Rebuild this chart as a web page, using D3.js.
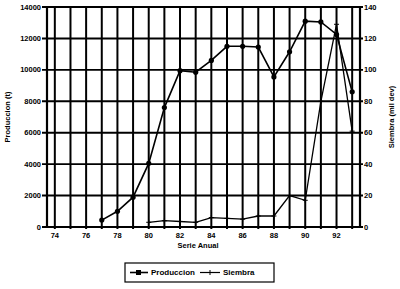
<!DOCTYPE html>
<html>
<head>
<meta charset="utf-8">
<script src="https://cdn.jsdelivr.net/npm/d3@7"></script>
<style>
  body { margin: 0; background: #fff; }
  text { font-family: 'Liberation Sans', Arial, sans-serif; font-weight: bold; fill: #000; }
</style>
</head>
<body>
<div id="chart"></div>
<script>
const width = 400;
const height = 289;

// data
const prodYears = [77, 78, 79, 80, 81, 82, 83, 84, 85, 86, 87, 88, 89, 90, 91, 92, 93];
const produccion = [440, 1000, 1900, 4050, 7600, 9950, 9850, 10600, 11500, 11500, 11450, 9550, 11150, 13100, 13050, 12250, 8600];
const siemYears = [80, 81, 82, 83, 84, 85, 86, 87, 88, 89, 90, 91, 92, 93];
const siembra = [3, 4, 3.5, 3, 6, 5.5, 5, 7, 7, 20, 17, 80, 129, 61];
const gridYears = d3.range(74, 94);
const xLabels = [74, 76, 78, 80, 82, 84, 86, 88, 90, 92];
const leftTicks = d3.range(0, 14001, 2000);
const rightTicks = d3.range(0, 141, 20);

const svg = d3.select('#chart').append('svg')
  .attr('width', width).attr('height', height);

const x = d3.scaleLinear().domain([73.5, 93.5]).range([47, 360]);
const yL = d3.scaleLinear().domain([0, 14000]).range([227, 7]);
const yR = d3.scaleLinear().domain([0, 140]).range([227, 7]);

// horizontal grid + ticks
svg.selectAll('.hgrid').data(leftTicks).enter().append('line')
  .attr('x1', 42).attr('x2', 363)
  .attr('y1', d => yL(d)).attr('y2', d => yL(d))
  .attr('stroke', '#000').attr('stroke-width', 1.9);

// vertical grid
svg.selectAll('.vgrid').data(gridYears).enter().append('line')
  .attr('x1', d => x(d)).attr('x2', d => x(d))
  .attr('y1', 7).attr('y2', 229)
  .attr('stroke', '#000').attr('stroke-width', 2);

// axes
svg.append('line').attr('x1', x(73.5)).attr('x2', x(73.5)).attr('y1', 6).attr('y2', 228)
  .attr('stroke', '#000').attr('stroke-width', 2.2);
svg.append('line').attr('x1', x(93.5)).attr('x2', x(93.5)).attr('y1', 6).attr('y2', 228)
  .attr('stroke', '#000').attr('stroke-width', 2.2);

// tick labels
svg.selectAll('.lt').data(leftTicks).enter().append('text')
  .attr('x', 41).attr('y', d => yL(d)).attr('dy', '0.35em')
  .attr('text-anchor', 'end').attr('font-size', 7.5)
  .text(d => d);
svg.selectAll('.rt').data(rightTicks).enter().append('text')
  .attr('x', 364).attr('y', d => yR(d)).attr('dy', '0.35em')
  .attr('font-size', 7.5)
  .text(d => d);
svg.selectAll('.xt').data(xLabels).enter().append('text')
  .attr('x', d => x(d)).attr('y', 235).attr('dy', '0.35em')
  .attr('text-anchor', 'middle').attr('font-size', 7.5)
  .text(d => d);

// titles
svg.append('text').attr('x', 198).attr('y', 247.5).attr('text-anchor', 'middle')
  .attr('font-size', 7.5).text('Serie Anual');
svg.append('text').attr('transform', 'translate(10,117) rotate(-90)')
  .attr('text-anchor', 'middle').attr('font-size', 7.5).text('Produccion (t)');
svg.append('text').attr('transform', 'translate(394,117) rotate(-90)')
  .attr('text-anchor', 'middle').attr('font-size', 7.5).text('Siembra (mil dev)');

// series
const lineP = d3.line().x((d, i) => x(prodYears[i])).y(d => yL(d));
svg.append('path').datum(produccion).attr('d', lineP)
  .attr('fill', 'none').attr('stroke', '#000').attr('stroke-width', 1.6);
svg.selectAll('.pdot').data(produccion).enter().append('circle')
  .attr('cx', (d, i) => x(prodYears[i])).attr('cy', d => yL(d)).attr('r', 2.6)
  .attr('fill', '#000');

const lineS = d3.line().x((d, i) => x(siemYears[i])).y(d => yR(d));
svg.append('path').datum(siembra).attr('d', lineS)
  .attr('fill', 'none').attr('stroke', '#000').attr('stroke-width', 1.3);
svg.selectAll('.splus').data(siembra).enter().append('path')
  .attr('d', (d, i) => {
    const px = x(siemYears[i]), py = yR(d);
    return `M${px - 2.5},${py}H${px + 2.5}M${px},${py - 2.5}V${py + 2.5}`;
  })
  .attr('stroke', '#000').attr('stroke-width', 1);

// legend
const lg = svg.append('g');
lg.append('rect').attr('x', 125).attr('y', 263).attr('width', 149).attr('height', 19)
  .attr('fill', 'none').attr('stroke', '#000').attr('stroke-width', 1.2);
lg.append('line').attr('x1', 130).attr('x2', 148).attr('y1', 272.5).attr('y2', 272.5)
  .attr('stroke', '#000').attr('stroke-width', 1.6);
lg.append('rect').attr('x', 136).attr('y', 270).attr('width', 5).attr('height', 5).attr('fill', '#000');
lg.append('text').attr('x', 151).attr('y', 272.5).attr('dy', '0.35em').attr('font-size', 8).text('Produccion');
lg.append('line').attr('x1', 200).attr('x2', 220).attr('y1', 272.5).attr('y2', 272.5)
  .attr('stroke', '#000').attr('stroke-width', 1.2);
lg.append('line').attr('x1', 210).attr('x2', 210).attr('y1', 270).attr('y2', 275)
  .attr('stroke', '#000').attr('stroke-width', 1);
lg.append('text').attr('x', 223).attr('y', 272.5).attr('dy', '0.35em').attr('font-size', 8).text('Siembra');
</script>
</body>
</html>
